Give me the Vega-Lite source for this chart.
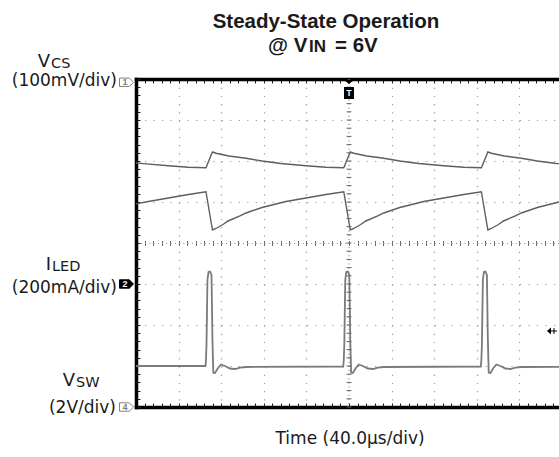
{
  "$schema": "https://vega.github.io/schema/vega-lite/v6.json",
  "width": 423,
  "height": 328,
  "autosize": {"type": "none"},
  "padding": {"left": 136, "top": 79, "right": 0, "bottom": 50},
  "background": "white",
  "config": {"view": {"stroke": null}},
  "resolve": {"axis": {"x": "independent", "y": "independent"}},
  "datasets": {
    "A": [
      {"t":0,"v":1.95},{"t":6.9,"v":1.935},{"t":30.4,"v":1.883},{"t":49.2,"v":1.849},{"t":65.7,"v":1.837},
      {"t":71.8,"v":2.22},{"t":75.1,"v":2.19},{"t":87.3,"v":2.122},{"t":103.3,"v":2.066},{"t":118.3,"v":2.0},
      {"t":136.1,"v":1.939},{"t":159.6,"v":1.883},{"t":178.4,"v":1.849},{"t":195.1,"v":1.837},
      {"t":201.2,"v":2.22},{"t":204.5,"v":2.19},{"t":216.7,"v":2.122},{"t":232.7,"v":2.066},{"t":247.7,"v":2.0},
      {"t":265.5,"v":1.939},{"t":289.0,"v":1.883},{"t":307.8,"v":1.849},{"t":324.3,"v":1.837},
      {"t":330.4,"v":2.22},{"t":333.7,"v":2.19},{"t":345.9,"v":2.122},{"t":361.9,"v":2.066},{"t":376.9,"v":2.0},
      {"t":394.7,"v":1.939},{"t":397.2,"v":1.935}
    ],
    "B": [
      {"t":0,"v":0.955},{"t":11.6,"v":1.012},{"t":30.4,"v":1.098},{"t":49.2,"v":1.183},{"t":65.7,"v":1.251},
      {"t":71.8,"v":0.317},{"t":75.1,"v":0.354},{"t":81.7,"v":0.451},{"t":86.4,"v":0.537},{"t":97.6,"v":0.659},
      {"t":103.3,"v":0.732},{"t":118.3,"v":0.866},{"t":140.8,"v":1.012},{"t":159.6,"v":1.098},{"t":178.4,"v":1.183},
      {"t":195.1,"v":1.251},{"t":201.2,"v":0.317},{"t":204.5,"v":0.354},{"t":211.1,"v":0.451},{"t":215.8,"v":0.537},
      {"t":227.0,"v":0.659},{"t":232.7,"v":0.732},{"t":247.7,"v":0.866},{"t":270.2,"v":1.012},{"t":289.0,"v":1.098},
      {"t":307.8,"v":1.183},{"t":324.3,"v":1.251},{"t":330.4,"v":0.317},{"t":333.7,"v":0.354},{"t":340.3,"v":0.451},
      {"t":345.0,"v":0.537},{"t":356.2,"v":0.659},{"t":361.9,"v":0.732},{"t":376.9,"v":0.866},{"t":397.2,"v":1.0}
    ],
    "C": [
      {"t":0,"v":-3.0},
      {"t":65.3,"v":-3.0},{"t":65.7,"v":-2.854},{"t":66.2,"v":-2.488},{"t":67.1,"v":-0.902},{"t":68.1,"v":-0.707},
      {"t":69.5,"v":-0.695},{"t":70.9,"v":-0.78},{"t":71.8,"v":-2.366},{"t":72.6,"v":-3.163},{"t":74.2,"v":-3.171},
      {"t":77.0,"v":-3.049},{"t":79.8,"v":-2.963},{"t":83.6,"v":-3.0},{"t":88.3,"v":-3.061},{"t":93.0,"v":-3.073},
      {"t":97.7,"v":-3.037},{"t":103.3,"v":-3.024},
      {"t":194.6,"v":-3.012},{"t":195.1,"v":-2.854},{"t":195.6,"v":-2.488},{"t":196.5,"v":-0.902},{"t":197.5,"v":-0.707},
      {"t":198.9,"v":-0.695},{"t":200.3,"v":-0.78},{"t":201.2,"v":-2.366},{"t":202.0,"v":-3.163},{"t":203.6,"v":-3.171},
      {"t":206.4,"v":-3.049},{"t":209.2,"v":-2.963},{"t":213.0,"v":-3.0},{"t":217.7,"v":-3.061},{"t":222.4,"v":-3.073},
      {"t":227.1,"v":-3.037},{"t":232.7,"v":-3.024},
      {"t":323.8,"v":-3.012},{"t":324.3,"v":-2.854},{"t":324.8,"v":-2.488},{"t":325.7,"v":-0.902},{"t":326.7,"v":-0.707},
      {"t":328.1,"v":-0.695},{"t":329.5,"v":-0.78},{"t":330.4,"v":-2.366},{"t":331.2,"v":-3.163},{"t":332.8,"v":-3.171},
      {"t":335.6,"v":-3.049},{"t":338.4,"v":-2.963},{"t":342.2,"v":-3.0},{"t":346.9,"v":-3.061},{"t":351.6,"v":-3.073},
      {"t":356.3,"v":-3.037},{"t":361.9,"v":-3.024},{"t":397.2,"v":-3.02}
    ],
    "vc": [
      {"t":200,"v":-4},{"t":200,"v":-3.8},{"t":200,"v":-3.6},{"t":200,"v":-3.4},{"t":200,"v":-3.2},{"t":200,"v":-3},
      {"t":200,"v":-2.8},{"t":200,"v":-2.6},{"t":200,"v":-2.4},{"t":200,"v":-2.2},{"t":200,"v":-2},
      {"t":200,"v":-1.8},{"t":200,"v":-1.6},{"t":200,"v":-1.4},{"t":200,"v":-1.2},{"t":200,"v":-1},
      {"t":200,"v":-0.8},{"t":200,"v":-0.6},{"t":200,"v":-0.4},{"t":200,"v":-0.2},{"t":200,"v":0},
      {"t":200,"v":0.2},{"t":200,"v":0.4},{"t":200,"v":0.6},{"t":200,"v":0.8},{"t":200,"v":1},
      {"t":200,"v":1.2},{"t":200,"v":1.4},{"t":200,"v":1.6},{"t":200,"v":1.8},{"t":200,"v":2},
      {"t":200,"v":2.2},{"t":200,"v":2.4},{"t":200,"v":2.6},{"t":200,"v":2.8},{"t":200,"v":3},
      {"t":200,"v":3.2},{"t":200,"v":3.4},{"t":200,"v":3.6},{"t":200,"v":3.8}
    ],
    "vline": [{"t":200}],
    "labels": [
      {"t":-17.84,"v":3.827,"s":"(100mV/div)"},
      {"t":-17.84,"v":-1.215,"s":"(200mA/div)"},
      {"t":-18.78,"v":-4.141,"s":"(2V/div)"}
    ],
    "names": [
      {"t":-80.75,"v":4.30,"s":"V"},
      {"t":-79.8,"v":-0.659,"s":"I"},
      {"t":-57.28,"v":-3.488,"s":"V"}
    ],
    "subs": [
      {"t":-79.8,"v":4.28,"s":"CS"},
      {"t":-78.87,"v":-0.683,"s":"LED"},
      {"t":-56.34,"v":-3.50,"s":"SW"}
    ],
    "title1": [{"t":178.4,"v":5.237,"s":"Steady-State Operation"}],
    "title2": [{"t":123.9,"v":4.659,"s":"@ V"},{"t":186.9,"v":4.659,"s":"= 6V"}],
    "title2sub": [{"t":162.4,"v":4.659,"s":"IN"}],
    "xtitle": [{"t":201,"v":-4.902,"s":"Time (40.0µs/div)"}],
    "ch": [{"t":-8.9,"v":3.92,"ch":"1"},{"t":-8.9,"v":-1,"ch":"2"},{"t":-8.9,"v":-4,"ch":"4"}],
    "trig": [{"t":200,"v":3.732,"s":"T"}],
    "trigText": [{"t":200,"v":3.66,"s":"T"}],
    "tlev": [{"t":390.6,"v":-2.146}]
  },
  "layer": [
    {
      "data": {"name": "A"},
      "mark": {"type": "line", "stroke": "#5e5e5e", "strokeWidth": 1.4, "clip": true},
      "encoding": {
        "x": {"field": "t", "type": "quantitative", "scale": {"domain": [0, 397.2], "nice": false, "zero": false},
          "axis": {"orient": "bottom", "values": [40,80,120,160,240,280,320,360], "grid": true, "gridColor": "#9a9a9a", "gridDash": [1.2, 7.0], "gridWidth": 1.2, "domain": false, "ticks": false, "labels": false, "title": null}},
        "y": {"field": "v", "type": "quantitative", "scale": {"domain": [-4, 4], "nice": false, "zero": false},
          "axis": {"orient": "left", "values": [-3,-2,-1,1,2,3], "grid": true, "gridColor": "#9a9a9a", "gridDash": [1.2, 7.32], "gridWidth": 1.2, "domain": false, "ticks": false, "labels": false, "title": null}}
      }
    },
    {
      "data": {"name": "B"},
      "mark": {"type": "line", "stroke": "#5e5e5e", "strokeWidth": 1.4, "clip": true},
      "encoding": {
        "x": {"field": "t", "type": "quantitative", "scale": {"domain": [0, 397.2], "nice": false, "zero": false},
          "axis": {"orient": "top", "values": [0,8,16,24,32,40,48,56,64,72,80,88,96,104,112,120,128,136,144,152,160,168,176,184,192,200,208,216,224,232,240,248,256,264,272,280,288,296,304,312,320,328,336,344,352,360,368,376,384,392], "grid": false, "domain": true, "domainColor": "#000000", "domainWidth": 3.5, "domainCap": "square", "ticks": true, "tickSize": -4, "tickColor": "#222222", "tickWidth": 1, "labels": false, "title": null}},
        "y": {"field": "v", "type": "quantitative", "scale": {"domain": [-4, 4], "nice": false, "zero": false},
          "axis": {"orient": "left", "values": [-4,-3.8,-3.6,-3.4,-3.2,-3,-2.8,-2.6,-2.4,-2.2,-2,-1.8,-1.6,-1.4,-1.2,-1,-0.8,-0.6,-0.4,-0.2,0,0.2,0.4,0.6,0.8,1,1.2,1.4,1.6,1.8,2,2.2,2.4,2.6,2.8,3,3.2,3.4,3.6,3.8,4], "grid": false, "domain": true, "domainColor": "#000000", "domainWidth": 3.5, "domainCap": "square", "ticks": true, "tickSize": -4, "tickColor": "#222222", "tickWidth": 1, "labels": false, "title": null}}
      }
    },
    {
      "data": {"name": "C"},
      "mark": {"type": "line", "stroke": "#7a7a7a", "strokeWidth": 1.8, "clip": true},
      "encoding": {
        "x": {"field": "t", "type": "quantitative", "scale": {"domain": [0, 397.2], "nice": false, "zero": false},
          "axis": {"orient": "bottom", "values": [0,8,16,24,32,40,48,56,64,72,80,88,96,104,112,120,128,136,144,152,160,168,176,184,192,200,208,216,224,232,240,248,256,264,272,280,288,296,304,312,320,328,336,344,352,360,368,376,384,392], "grid": false, "domain": true, "domainColor": "#000000", "domainWidth": 3.5, "domainCap": "square", "ticks": true, "tickSize": -4, "tickColor": "#222222", "tickWidth": 1, "labels": false, "title": null}},
        "y": {"field": "v", "type": "quantitative", "scale": {"domain": [-4, 4], "nice": false, "zero": false}, "axis": null}
      }
    },
    {
      "data": {"name": "labels"},
      "mark": {"type": "text", "font": "DejaVu Sans", "fontSize": 17, "align": "right", "baseline": "alphabetic", "color": "#1a1a1a"},
      "encoding": {
        "x": {"field": "t", "type": "quantitative", "scale": {"domain": [0, 397.2], "nice": false, "zero": false},
          "axis": {"orient": "top", "offset": -164, "values": [0,8,16,24,32,40,48,56,64,72,80,88,96,104,112,120,128,136,144,152,160,168,176,184,192,200,208,216,224,232,240,248,256,264,272,280,288,296,304,312,320,328,336,344,352,360,368,376,384,392], "grid": false, "domain": false, "ticks": true, "tickSize": 2.5, "tickColor": "#666666", "tickWidth": 1, "labels": false, "title": null}},
        "y": {"field": "v", "type": "quantitative", "scale": {"domain": [-4, 4], "nice": false, "zero": false}, "axis": null},
        "text": {"field": "s"}
      }
    },
    {
      "data": {"name": "subs"},
      "mark": {"type": "text", "font": "DejaVu Sans", "fontSize": 14.5, "align": "left", "baseline": "alphabetic", "color": "#1a1a1a"},
      "encoding": {
        "x": {"field": "t", "type": "quantitative", "scale": {"domain": [0, 397.2], "nice": false, "zero": false},
          "axis": {"orient": "bottom", "offset": -164, "values": [0,8,16,24,32,40,48,56,64,72,80,88,96,104,112,120,128,136,144,152,160,168,176,184,192,200,208,216,224,232,240,248,256,264,272,280,288,296,304,312,320,328,336,344,352,360,368,376,384,392], "grid": false, "domain": true, "domainColor": "#8a8a8a", "domainDash": [1, 3.26], "domainWidth": 1.2, "ticks": true, "tickSize": 2.5, "tickColor": "#666666", "tickWidth": 1, "labels": false, "title": null}},
        "y": {"field": "v", "type": "quantitative", "scale": {"domain": [-4, 4], "nice": false, "zero": false}, "axis": null},
        "text": {"field": "s"}
      }
    },
    {
      "data": {"name": "vline"},
      "mark": {"type": "rule", "color": "#8a8a8a", "strokeWidth": 1.2, "strokeDash": [1, 3.1]},
      "encoding": {
        "x": {"field": "t", "type": "quantitative", "scale": {"domain": [0, 397.2], "nice": false, "zero": false}, "axis": null}
      }
    },
    {
      "data": {"name": "vc"},
      "mark": {"type": "tick", "orient": "horizontal", "size": 5, "thickness": 1, "color": "#666666", "opacity": 1},
      "encoding": {
        "x": {"field": "t", "type": "quantitative", "scale": {"domain": [0, 397.2], "nice": false, "zero": false}, "axis": null},
        "y": {"field": "v", "type": "quantitative", "scale": {"domain": [-4, 4], "nice": false, "zero": false}, "axis": null}
      }
    },
    {
      "data": {"name": "names"},
      "mark": {"type": "text", "font": "DejaVu Sans", "fontSize": 18, "align": "right", "baseline": "alphabetic", "color": "#1a1a1a"},
      "encoding": {
        "x": {"field": "t", "type": "quantitative", "scale": {"domain": [0, 397.2], "nice": false, "zero": false}, "axis": null},
        "y": {"field": "v", "type": "quantitative", "scale": {"domain": [-4, 4], "nice": false, "zero": false}, "axis": null},
        "text": {"field": "s"}
      }
    },
    {
      "data": {"name": "title1"},
      "mark": {"type": "text", "font": "Liberation Sans", "fontSize": 20.5, "fontWeight": "bold", "align": "center", "baseline": "alphabetic", "color": "#1a1a1a"},
      "encoding": {
        "x": {"field": "t", "type": "quantitative", "scale": {"domain": [0, 397.2], "nice": false, "zero": false}, "axis": null},
        "y": {"field": "v", "type": "quantitative", "scale": {"domain": [-4, 4], "nice": false, "zero": false}, "axis": null},
        "text": {"field": "s"}
      }
    },
    {
      "data": {"name": "title2"},
      "mark": {"type": "text", "font": "Liberation Sans", "fontSize": 20.5, "fontWeight": "bold", "align": "left", "baseline": "alphabetic", "color": "#1a1a1a"},
      "encoding": {
        "x": {"field": "t", "type": "quantitative", "scale": {"domain": [0, 397.2], "nice": false, "zero": false}, "axis": null},
        "y": {"field": "v", "type": "quantitative", "scale": {"domain": [-4, 4], "nice": false, "zero": false}, "axis": null},
        "text": {"field": "s"}
      }
    },
    {
      "data": {"name": "title2sub"},
      "mark": {"type": "text", "font": "Liberation Sans", "fontSize": 17, "fontWeight": "bold", "align": "left", "baseline": "alphabetic", "color": "#1a1a1a"},
      "encoding": {
        "x": {"field": "t", "type": "quantitative", "scale": {"domain": [0, 397.2], "nice": false, "zero": false}, "axis": null},
        "y": {"field": "v", "type": "quantitative", "scale": {"domain": [-4, 4], "nice": false, "zero": false}, "axis": null},
        "text": {"field": "s"}
      }
    },
    {
      "data": {"name": "xtitle"},
      "mark": {"type": "text", "font": "DejaVu Sans", "fontSize": 17, "align": "center", "baseline": "alphabetic", "color": "#1a1a1a"},
      "encoding": {
        "x": {"field": "t", "type": "quantitative", "scale": {"domain": [0, 397.2], "nice": false, "zero": false}, "axis": null},
        "y": {"field": "v", "type": "quantitative", "scale": {"domain": [-4, 4], "nice": false, "zero": false}, "axis": null},
        "text": {"field": "s"}
      }
    },
    {
      "data": {"name": "ch"},
      "mark": {"type": "point", "shape": "M-1,-0.6L0.4,-0.6L1,0L0.4,0.6L-1,0.6Z", "size": 196, "filled": true, "strokeWidth": 1, "opacity": 1},
      "encoding": {
        "x": {"field": "t", "type": "quantitative", "scale": {"domain": [0, 397.2], "nice": false, "zero": false}, "axis": null},
        "y": {"field": "v", "type": "quantitative", "scale": {"domain": [-4, 4], "nice": false, "zero": false}, "axis": null},
        "fill": {"field": "ch", "type": "nominal", "scale": {"domain": ["1","2","4"], "range": ["#ffffff","#000000","#ffffff"]}, "legend": null},
        "stroke": {"field": "ch", "type": "nominal", "scale": {"domain": ["1","2","4"], "range": ["#808080","#000000","#808080"]}, "legend": null}
      }
    },
    {
      "data": {"name": "ch"},
      "mark": {"type": "text", "font": "Liberation Sans", "fontSize": 9, "fontWeight": "bold", "align": "center", "baseline": "middle", "dx": -1.5},
      "encoding": {
        "x": {"field": "t", "type": "quantitative", "scale": {"domain": [0, 397.2], "nice": false, "zero": false}, "axis": null},
        "y": {"field": "v", "type": "quantitative", "scale": {"domain": [-4, 4], "nice": false, "zero": false}, "axis": null},
        "text": {"field": "ch"},
        "color": {"field": "ch", "type": "nominal", "scale": {"domain": ["1","2","4"], "range": ["#808080","#ffffff","#808080"]}, "legend": null}
      }
    },
    {
      "data": {"name": "trig"},
      "mark": {"type": "point", "shape": "M-0.5,-1L0.5,-1L0,-0.6Z M-0.5,-0.3L0.5,-0.3L0.5,0.9L-0.5,0.9Z", "size": 400, "filled": true, "color": "#000000", "opacity": 1},
      "encoding": {
        "x": {"field": "t", "type": "quantitative", "scale": {"domain": [0, 397.2], "nice": false, "zero": false}, "axis": null},
        "y": {"field": "v", "type": "quantitative", "scale": {"domain": [-4, 4], "nice": false, "zero": false}, "axis": null}
      }
    },
    {
      "data": {"name": "trigText"},
      "mark": {"type": "text", "font": "Liberation Sans", "fontSize": 9, "fontWeight": "bold", "align": "center", "baseline": "middle", "color": "#ffffff"},
      "encoding": {
        "x": {"field": "t", "type": "quantitative", "scale": {"domain": [0, 397.2], "nice": false, "zero": false}, "axis": null},
        "y": {"field": "v", "type": "quantitative", "scale": {"domain": [-4, 4], "nice": false, "zero": false}, "axis": null},
        "text": {"field": "s"}
      }
    },
    {
      "data": {"name": "tlev"},
      "mark": {"type": "point", "shape": "M-1,0L-0.2,-0.7L-0.2,0.7Z M-0.2,-0.12L1,-0.12L1,0.12L-0.2,0.12Z M0.3,-0.6L0.5,-0.6L0.5,0.6L0.3,0.6Z", "size": 100, "filled": true, "color": "#000000", "opacity": 1},
      "encoding": {
        "x": {"field": "t", "type": "quantitative", "scale": {"domain": [0, 397.2], "nice": false, "zero": false}, "axis": null},
        "y": {"field": "v", "type": "quantitative", "scale": {"domain": [-4, 4], "nice": false, "zero": false}, "axis": null}
      }
    }
  ]
}
